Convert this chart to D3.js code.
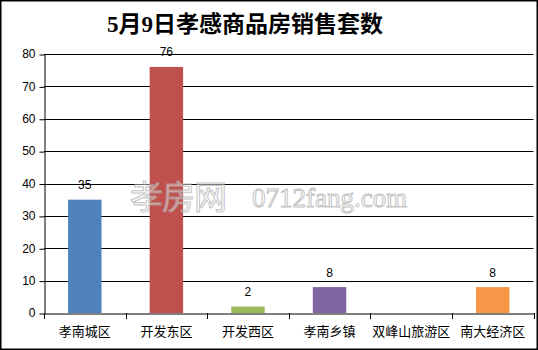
<!DOCTYPE html>
<html><head><meta charset="utf-8">
<script src="https://cdn.jsdelivr.net/npm/d3@7"></script>
<style>html,body{margin:0;padding:0;background:#fff;}svg{display:block;}</style>
</head><body>
<svg id="c" width="538" height="350"></svg>
<script>
const categories = ["孝南城区","开发东区","开发西区","孝南乡镇","双峰山旅游区","南大经济区"];
const values = [35, 76, 2, 8, 0, 8];
const colors = ["#4F81BD","#C0504D","#9BBB59","#8064A2","#4BACC6","#F79646"];
const yTicks = [0,10,20,30,40,50,60,70,80];
const title = "5月9日孝感商品房销售套数";

const svg = d3.select("#c");
const W = 538, H = 350;
const m = {left:44, right:4, top:54, bottom:37};
const x = d3.scaleBand().domain(categories).range([m.left, W - m.right - 0.5]).paddingInner(0.59).paddingOuter(0.295);
const xb = d3.scaleBand().domain(categories).range([m.left, W - m.right - 0.5]);
const y = d3.scaleLinear().domain([0,80]).range([H - m.bottom, m.top]);
const rows = categories.map((c,i)=>({c, v:values[i], col:colors[i]}));

// frame
svg.append("rect").attr("x",0.75).attr("y",0.75).attr("width",W-1.5).attr("height",H-1.5)
  .attr("fill","#fff").attr("stroke","#000").attr("stroke-width",1.5);

// title
svg.append("text").attr("x",245).attr("y",32).attr("text-anchor","middle")
  .attr("font-family","'Liberation Serif','Noto Sans CJK SC',serif").attr("font-weight","bold")
  .attr("font-size",23).attr("fill","#000").text(title);

// gridlines
svg.append("g").selectAll("line").data(yTicks.filter(d=>d>0)).join("line")
  .attr("x1",m.left).attr("x2",W-m.right-0.5)
  .attr("y1",d=>Math.round(y(d))+0.5).attr("y2",d=>Math.round(y(d))+0.5)
  .attr("stroke","#000").attr("stroke-width",1);

// y axis
const ya = svg.append("g").attr("transform",`translate(${m.left+0.5},0)`)
  .call(d3.axisLeft(y).tickValues(yTicks).tickSize(5).tickPadding(4).tickSizeOuter(0));
ya.select(".domain").attr("stroke","#000");
ya.selectAll(".tick line").attr("stroke","#000").attr("transform","translate(0,0.5)");
ya.selectAll("text").attr("font-family","'Liberation Sans',Arial,sans-serif").attr("font-size",12).attr("fill","#000");

// bars
svg.append("g").selectAll("rect").data(rows).join("rect")
  .attr("x",d=>x(d.c)).attr("width",x.bandwidth())
  .attr("y",d=>y(d.v)).attr("height",d=>y(0)-y(d.v))
  .attr("fill",d=>d.col);

// watermark
const wm = svg.append("g").attr("opacity",0.7);
wm.append("text").attr("x",130).attr("y",209)
  .attr("font-family","'Noto Sans CJK SC',sans-serif").attr("font-size",33)
  .attr("fill","#fff").attr("fill-opacity",0.7).attr("stroke","#aaa").attr("stroke-width",1)
  .attr("letter-spacing",-1).text("孝房网");
wm.append("text").attr("x",252).attr("y",207)
  .attr("font-family","'Liberation Serif',serif").attr("font-size",27)
  .attr("fill","#fff").attr("fill-opacity",0.7).attr("stroke","#aaa").attr("stroke-width",1)
  .text("0712fang.com");

// x axis
const xa = svg.append("g").attr("transform",`translate(0,${Math.round(y(0))+0.5})`)
  .call(d3.axisBottom(xb).tickSize(0).tickPadding(13));
xa.select(".domain").attr("stroke","#000");
xa.selectAll("text").attr("font-family","'Noto Sans CJK SC',sans-serif").attr("font-size",13).attr("fill","#000");
// category separator ticks
const bounds = categories.map(c=>xb(c)).concat([xb(categories[5])+xb.bandwidth()]);
svg.append("g").selectAll("line").data(bounds).join("line")
  .attr("x1",d=>Math.round(d)+0.5).attr("x2",d=>Math.round(d)+0.5)
  .attr("y1",Math.round(y(0))).attr("y2",Math.round(y(0))+6).attr("stroke","#000");

// data labels
svg.append("g").selectAll("text").data(rows.filter(d=>d.v>0)).join("text")
  .attr("x",d=>x(d.c)+x.bandwidth()/2)
  .attr("y",d=>y(d.v)-10.5).attr("text-anchor","middle")
  .attr("font-family","'Liberation Sans',Arial,sans-serif").attr("font-size",12).attr("fill","#000")
  .text(d=>d.v);
</script>
</body></html>
